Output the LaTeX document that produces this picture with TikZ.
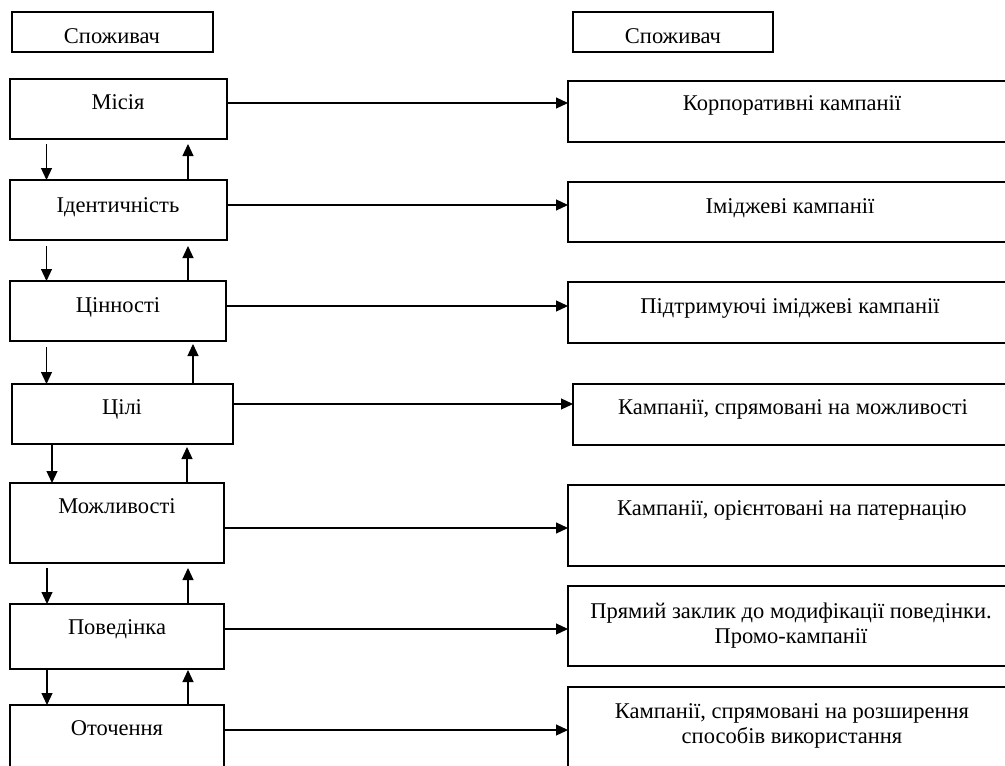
\documentclass[tikz,border=0pt]{standalone}
\usepackage{fontspec}
\setmainfont{Liberation Serif}
\usetikzlibrary{arrows.meta}
\begin{document}
\begin{tikzpicture}[x=1pt,y=-1pt,
  every node/.style={font=\fontsize{22.5}{25}\selectfont},
  box/.style={draw,line width=1.2pt,inner sep=0pt,outer sep=0pt,rectangle},
  lbl/.style={inner sep=0pt,align=center,anchor=base},
  arr/.style={line width=1.2pt,-{Triangle[length=12pt,width=11pt]}}]
\useasboundingbox (0,0) rectangle (1005,766);
\clip (0,0) rectangle (1005,766);
% boxes: \boxat{name}{x1}{y1}{x2}{y2}
\newcommand{\boxat}[5]{\node[box,minimum width={#4-#2},minimum height={#5-#3}] (#1) at ({(#2+#4)/2},{(#3+#5)/2}) {};}
\boxat{s1}{12}{12}{213}{52}
\boxat{s2}{573}{12}{773}{52}
\boxat{m}{10}{79}{227}{139}
\boxat{i}{10}{180}{227}{240}
\boxat{c}{10}{281}{226}{341}
\boxat{g}{12}{384}{233}{444}
\boxat{p}{10}{483}{224}{563}
\boxat{b}{10}{604}{224}{669}
\boxat{o}{10}{705}{224}{780}
\boxat{r1}{568}{81}{1016}{142}
\boxat{r2}{568}{182}{1016}{242}
\boxat{r3}{568}{282}{1016}{343}
\boxat{r4}{573}{384}{1016}{445}
\boxat{r5}{568}{485}{1016}{566}
\boxat{r6}{568}{586}{1016}{666}
\boxat{r7}{568}{687}{1016}{780}
% texts (baseline positions; last line for two-line texts)
\node[lbl] (ts1) at (112,43) {Споживач};
\node[lbl] (ts2) at (673,43) {Споживач};
\node[lbl] (tm) at (118,109) {Місія};
\node[lbl] (ti) at (118,212) {Ідентичність};
\node[lbl] (tc) at (118,312) {Цінності};
\node[lbl] (tg) at (122,414) {Цілі};
\node[lbl] (tp) at (117,513) {Можливості};
\node[lbl] (tb) at (117,634) {Поведінка};
\node[lbl] (to) at (117,735) {Оточення};
\node[lbl] (tr1) at (792,110) {Корпоративні кампанії};
\node[lbl] (tr2) at (790,213) {Іміджеві кампанії};
\node[lbl] (tr3) at (790,313) {Підтримуючі іміджеві кампанії};
\node[lbl] (tr4) at (793,414) {Кампанії, спрямовані на можливості};
\node[lbl] (tr5) at (792,515) {Кампанії, орієнтовані на патернацію};
\node[lbl] (tr6) at (791,643) {Прямий заклик до модифікації поведінки.\\Промо-кампанії};
\node[lbl] (tr7) at (792,743) {Кампанії, спрямовані на розширення\\способів використання};
% horizontal connectors
\coordinate (h1) at (0,103);
\coordinate (h2) at (0,205);
\coordinate (h3) at (0,306);
\coordinate (h4) at (0,404);
\coordinate (h5) at (0,528);
\coordinate (h6) at (0,629);
\coordinate (h7) at (0,730);
\draw[arr] (m.east |- h1) -- (r1.west |- h1);
\draw[arr] (i.east |- h2) -- (r2.west |- h2);
\draw[arr] (c.east |- h3) -- (r3.west |- h3);
\draw[arr] (g.east |- h4) -- (r4.west |- h4);
\draw[arr] (p.east |- h5) -- (r5.west |- h5);
\draw[arr] (b.east |- h6) -- (r6.west |- h6);
\draw[arr] (o.east |- h7) -- (r7.west |- h7);
% vertical connectors
\coordinate (x46) at (46.5,0);
\coordinate (x47) at (47,0);
\coordinate (x52) at (52,0);
\coordinate (x187) at (187,0);
\coordinate (x188) at (188,0);
\coordinate (x193) at (193,0);
\draw[arr,shorten <=5pt] (m.south -| x46) -- (i.north -| x46);
\draw[arr,shorten >=5pt] (i.north -| x188) -- (m.south -| x188);
\draw[arr,shorten <=6pt] (i.south -| x46) -- (c.north -| x46);
\draw[arr,shorten >=6pt] (c.north -| x188) -- (i.south -| x188);
\draw[arr,shorten <=6pt] (c.south -| x46) -- (g.north -| x46);
\draw[arr,shorten >=3pt] (g.north -| x193) -- (c.south -| x193);
\draw[arr] (g.south -| x52) -- (p.north -| x52);
\draw[arr,shorten >=3pt] (p.north -| x187) -- (g.south -| x187);
\draw[arr,shorten <=5pt] (p.south -| x47) -- (b.north -| x47);
\draw[arr,shorten >=5pt] (b.north -| x188) -- (p.south -| x188);
\draw[arr] (b.south -| x47) -- (o.north -| x47);
\draw[arr,shorten >=1pt] (o.north -| x188) -- (b.south -| x188);
\end{tikzpicture}
\end{document}
